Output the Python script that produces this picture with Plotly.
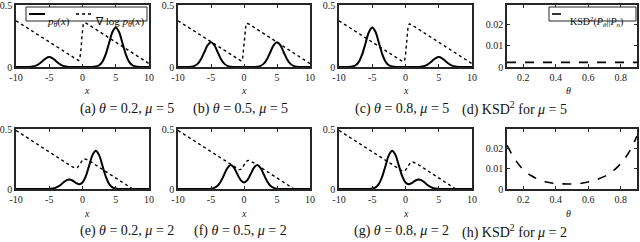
import plotly.graph_objects as go

# ---------------- data ----------------
x_grid = [-10, -9.5, -9, -8.5, -8, -7.5, -7, -6.5, -6, -5.5, -5, -4.5, -4, -3.5, -3, -2.5, -2,
          -1.5, -1, -0.5, 0, 0.5, 1, 1.5, 2, 2.5, 3, 3.5, 4, 4.5, 5, 5.5, 6, 6.5, 7, 7.5, 8,
          8.5, 9, 9.5, 10]

# mu = 5 densities
p_a = [0, 0, 0, 0, 0.001, 0.004, 0.011, 0.026, 0.048, 0.070, 0.080, 0.070, 0.048, 0.026, 0.011,
       0.004, 0.001, 0, 0, 0, 0, 0, 0, 0.001, 0.004, 0.014, 0.043, 0.104, 0.194, 0.282, 0.319,
       0.282, 0.194, 0.104, 0.043, 0.014, 0.004, 0.001, 0, 0, 0]
p_b = [0, 0, 0, 0.0005, 0.002, 0.009, 0.027, 0.065, 0.121, 0.176, 0.199, 0.176, 0.121, 0.065,
       0.027, 0.009, 0.002, 0.0005, 0, 0, 0, 0, 0, 0.0005, 0.002, 0.009, 0.027, 0.065, 0.121,
       0.176, 0.199, 0.176, 0.121, 0.065, 0.027, 0.009, 0.002, 0.0005, 0, 0, 0]
p_c = [0, 0, 0, 0.001, 0.004, 0.014, 0.043, 0.104, 0.194, 0.282, 0.319, 0.282, 0.194, 0.104,
       0.043, 0.014, 0.004, 0.001, 0, 0, 0, 0, 0, 0, 0.001, 0.004, 0.011, 0.026, 0.048, 0.070,
       0.080, 0.070, 0.048, 0.026, 0.011, 0.004, 0.001, 0, 0, 0, 0]
# mu = 2 densities
p_e = [0, 0, 0, 0, 0, 0, 0, 0, 0, 0, 0.001, 0.0035, 0.011, 0.026, 0.048, 0.070, 0.080, 0.071,
       0.052, 0.040, 0.054, 0.107, 0.195, 0.282, 0.319, 0.282, 0.194, 0.104, 0.043, 0.014,
       0.0035, 0.0007, 0, 0, 0, 0, 0, 0, 0, 0, 0]
p_f = [0, 0, 0, 0, 0, 0, 0, 0, 0, 0, 0.002, 0.009, 0.027, 0.065, 0.121, 0.176, 0.200, 0.176,
       0.123, 0.074, 0.054, 0.074, 0.123, 0.176, 0.200, 0.176, 0.121, 0.065, 0.027, 0.009,
       0.002, 0, 0, 0, 0, 0, 0, 0, 0, 0, 0]
p_g = [0, 0, 0, 0, 0, 0, 0, 0, 0, 0.0007, 0.0035, 0.014, 0.043, 0.104, 0.194, 0.282, 0.319,
       0.282, 0.195, 0.107, 0.054, 0.040, 0.052, 0.071, 0.080, 0.070, 0.048, 0.026, 0.011,
       0.0035, 0.001, 0, 0, 0, 0, 0, 0, 0, 0, 0, 0]

# scaled score functions (dotted)
sx_a = [-10, -1, -0.8, -0.6, -0.4, -0.3, -0.2, -0.1, 0, 0.1, 0.2, 0.4, 0.6, 10]
sy_a = [0.373, 0.062, 0.0555, 0.052, 0.065, 0.095, 0.155, 0.236, 0.3035, 0.340, 0.354, 0.357, 0.352, 0.0275]
sx_b = [-10, -0.8, -0.6, -0.4, -0.3, -0.2, -0.1, 0, 0.1, 0.2, 0.3, 0.4, 0.6, 0.8, 10]
sy_b = [0.373, 0.055, 0.049, 0.0475, 0.054, 0.0755, 0.124, 0.2, 0.276, 0.3245, 0.346, 0.3525, 0.351, 0.345, 0.0275]
sx_c = [-10, -0.6, -0.4, -0.2, -0.1, 0, 0.1, 0.2, 0.3, 0.4, 0.6, 0.8, 1, 10]
sy_c = [0.3725, 0.048, 0.043, 0.046, 0.060, 0.0965, 0.164, 0.245, 0.305, 0.335, 0.348, 0.3445, 0.338, 0.027]
sx_e = [-10, -3, -2, -1.5, -1, -0.75, -0.5, -0.25, 0, 0.25, 0.5, 1, 1.5, 2, 10]
sy_e = [0.488, 0.236, 0.2002, 0.1834, 0.1739, 0.179, 0.1965, 0.2228, 0.2432, 0.2508, 0.2493, 0.2354, 0.218, 0.2, -0.088]
sx_f = [-10, -2, -1.5, -1, -0.75, -0.5, -0.25, 0, 0.25, 0.5, 0.75, 1, 1.5, 2, 10]
sy_f = [0.488, 0.2, 0.1824, 0.1666, 0.1618, 0.1632, 0.1757, 0.2, 0.2243, 0.2368, 0.2382, 0.2334, 0.2176, 0.2, -0.088]
sx_g = [-10, -2, -1.5, -1, -0.5, -0.25, 0, 0.25, 0.5, 0.75, 1, 1.5, 2, 3, 10]
sy_g = [0.488, 0.2, 0.182, 0.1646, 0.1507, 0.1492, 0.1568, 0.1772, 0.2035, 0.221, 0.2261, 0.2166, 0.1998, 0.164, -0.088]

# KSD^2 curves
theta = [0.1, 0.15, 0.2, 0.25, 0.3, 0.35, 0.4, 0.45, 0.5, 0.55, 0.6, 0.65, 0.7, 0.75, 0.8, 0.85, 0.9]
ksd_mu5 = [0.0022] * 17
ksd_mu2 = [0.0215, 0.0145, 0.0095, 0.0065, 0.0045, 0.0033, 0.0027, 0.0025, 0.0025, 0.0027,
           0.0034, 0.0046, 0.0062, 0.0087, 0.0125, 0.018, 0.026]

captions = ["(a) <i>θ</i> = 0.2, <i>μ</i> = 5", "(b) <i>θ</i> = 0.5, <i>μ</i> = 5",
            "(c) <i>θ</i> = 0.8, <i>μ</i> = 5", "(d) KSD<sup>2</sup> for <i>μ</i> = 5",
            "(e) <i>θ</i> = 0.2, <i>μ</i> = 2", "(f) <i>θ</i> = 0.5, <i>μ</i> = 2",
            "(g) <i>θ</i> = 0.8, <i>μ</i> = 2", "(h) KSD<sup>2</sup> for <i>μ</i> = 2"]
legend_p = "<i>p<sub>θ</sub></i>(<i>x</i>)"
legend_s = "∇ log <i>p<sub>θ</sub></i>(<i>x</i>)"
legend_k = "KSD<sup>2</sup>(<i>P<sub>θ</sub></i>||<i>P<sub>n</sub></i>)"

x_ticks = [-10, -5, 0, 5, 10]
x_ticktext = ["-10", "-5", "0", "5", "10"]
t_ticks = [0.2, 0.4, 0.6, 0.8]
k_ticks = [0, 0.01, 0.02]
k_ticktext = ["0", "0.01", "0.02"]

# ---------------- layout ----------------
W, H = 640, 242
FONT = "Liberation Serif"
INK = "#262626"
col_px = [(16, 149), (178, 310), (339, 472), (507, 637)]
row_px = [(5, 67), (129, 189)]


def px(xp):
    return xp / W


def py(yp):
    return 1 - yp / H


fig = go.Figure()

dens = [p_a, p_b, p_c, p_e, p_f, p_g]
scores = [(sx_a, sy_a), (sx_b, sy_b), (sx_c, sy_c), (sx_e, sy_e), (sx_f, sy_f), (sx_g, sy_g)]

annotations = []
shapes = []
for r in range(2):
    for c in range(4):
        k = r * 4 + c + 1
        xa = "x" if k == 1 else f"x{k}"
        ya = "y" if k == 1 else f"y{k}"
        xd = [px(col_px[c][0]), px(col_px[c][1])]
        yd = [py(row_px[r][1]), py(row_px[r][0])]
        axis_common = dict(showline=True, linewidth=1.6, linecolor=INK, mirror="ticks",
                           ticks="inside", ticklen=3, tickwidth=1, tickcolor=INK,
                           showgrid=False, zeroline=False, automargin=False,
                           ticklabeloverflow="allow",
                           tickfont=dict(family=FONT, size=10, color="#222"))
        if c < 3:
            xaxis = dict(domain=xd, range=[-10, 10], tickvals=x_ticks, ticktext=x_ticktext,
                         anchor=ya, **axis_common)
            yaxis = dict(domain=yd, range=[0, 0.5], tickvals=[0, 0.5], ticktext=["0", "0.5"],
                         anchor=xa, **axis_common)
            xlab = "<i>x</i>"
        else:
            xaxis = dict(domain=xd, range=[0.1, 0.9], tickvals=t_ticks, anchor=ya, **axis_common)
            yaxis = dict(domain=yd, range=[0, 0.0295], tickvals=k_ticks, ticktext=k_ticktext,
                         anchor=xa, **axis_common)
            xlab = "<i>θ</i>"
        fig.layout[("xaxis" if k == 1 else f"xaxis{k}")] = xaxis
        fig.layout[("yaxis" if k == 1 else f"yaxis{k}")] = yaxis

        xc = px((col_px[c][0] + col_px[c][1]) / 2)
        annotations.append(dict(text=xlab, x=xc, y=py(row_px[r][1] + 24), xref="paper",
                                yref="paper", yanchor="middle", showarrow=False, borderpad=0,
                                font=dict(family=FONT, size=10, color="#222")))
        annotations.append(dict(text=captions[k - 1],
                                x=px((col_px[c][0] + col_px[c][1]) / 2 - 4),
                                y=py(row_px[r][1] + 42), yanchor="middle", borderpad=0,
                                xref="paper", yref="paper", showarrow=False,
                                font=dict(family=FONT, size=14, color="#111")))

        if c < 3:
            i = r * 3 + c
            fig.add_trace(go.Scatter(x=x_grid, y=dens[i], mode="lines", xaxis=xa, yaxis=ya,
                                     line=dict(color="black", width=2, shape="spline"),
                                     name=legend_p, showlegend=False))
            fig.add_trace(go.Scatter(x=scores[i][0], y=scores[i][1], mode="lines", xaxis=xa,
                                     yaxis=ya, line=dict(color="black", width=1.4, dash="dot"),
                                     name=legend_s, showlegend=False))
        else:
            ys = ksd_mu5 if r == 0 else ksd_mu2
            fig.add_trace(go.Scatter(x=theta, y=ys, mode="lines", xaxis=xa, yaxis=ya,
                                     line=dict(color="black", width=1.6, dash="dash", shape="spline"),
                                     name=legend_k, showlegend=False))

# ---- legend boxes (drawn as decorations) ----
shapes.append(dict(type="rect", xref="paper", yref="paper", x0=px(26), x1=px(147),
                   y0=py(21), y1=py(7), line=dict(color=INK, width=1), fillcolor="white"))
shapes.append(dict(type="line", xref="paper", yref="paper", x0=px(29), x1=px(45),
                   y0=py(14), y1=py(14), line=dict(color="black", width=2)))
annotations.append(dict(text=legend_p, x=px(46), y=py(14), xref="paper", yref="paper",
                        xanchor="left", showarrow=False, borderpad=0,
                        font=dict(family=FONT, size=11, color="#111")))
shapes.append(dict(type="line", xref="paper", yref="paper", x0=px(76), x1=px(93),
                   y0=py(14), y1=py(14), line=dict(color="black", width=1.4, dash="dot")))
annotations.append(dict(text=legend_s, x=px(94), y=py(14), xref="paper", yref="paper",
                        xanchor="left", showarrow=False, borderpad=0,
                        font=dict(family=FONT, size=11, color="#111")))
shapes.append(dict(type="rect", xref="paper", yref="paper", x0=px(549), x1=px(636),
                   y0=py(21), y1=py(7), line=dict(color=INK, width=1), fillcolor="white"))
shapes.append(dict(type="line", xref="paper", yref="paper", x0=px(552), x1=px(568),
                   y0=py(14), y1=py(14), line=dict(color="black", width=1.6, dash="dash")))
annotations.append(dict(text=legend_k, x=px(569), y=py(14), xref="paper", yref="paper",
                        xanchor="left", showarrow=False, borderpad=0,
                        font=dict(family=FONT, size=10, color="#111")))

fig.update_layout(
    width=W, height=H, margin=dict(l=0, r=0, t=0, b=0, autoexpand=False),
    paper_bgcolor="white", plot_bgcolor="white",
    annotations=annotations, shapes=shapes, showlegend=False,
)

fig.write_html("out.html", config={"displayModeBar": False},
               post_script="document.body.style.margin='0px';"
                           "document.body.style.overflow='hidden';")
